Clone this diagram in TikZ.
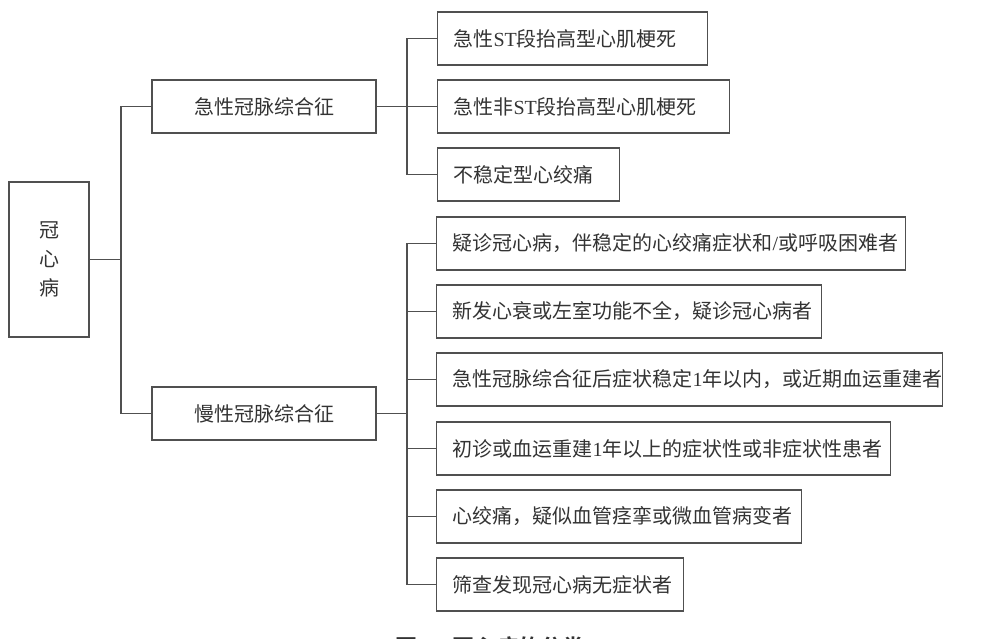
\documentclass[tikz,border=0pt]{standalone}
\usepackage{fontspec}
\newfontfamily\cjk{Noto Sans CJK SC}
\newfontfamily\cjkb{Noto Sans CJK SC Bold}
\newfontfamily\lat{Liberation Serif}
\definecolor{linec}{HTML}{505050}
\definecolor{textc}{HTML}{333333}
\tikzset{
  box/.style={draw=linec, line width=1.1pt, minimum height=53pt, inner ysep=0pt, inner xsep=16pt,
    text=textc, font=\cjk\fontsize{20}{24}\selectfont, anchor=west, align=left},
  midbox/.style={draw=linec, line width=1.1pt, minimum height=53pt, minimum width=224pt, inner sep=0pt,
    text=textc, font=\cjk\fontsize{20}{24}\selectfont},
  link/.style={draw=linec, line width=1.1pt}
}
\begin{document}
\begin{tikzpicture}[x=1pt,y=-1pt]
\useasboundingbox (0,0) rectangle (985,638);
% root
\node[draw=linec, line width=1.1pt, minimum width=80pt, minimum height=155pt, inner sep=0pt,
  text=textc, font=\cjk\fontsize{20}{29}\selectfont, align=center] (root) at (49,259.5) {冠\\心\\病};
% middle level
\node[midbox] (acs) at (264,106.5) {急性冠脉综合征};
\node[midbox] (ccs) at (264,413.5) {慢性冠脉综合征};
% leaves
\node[box, text width=270pt-32pt] (a1) at (437,38.5) {急性{\lat ST}段抬高型心肌梗死};
\node[box, text width=292pt-32pt] (a2) at (437,106.5) {急性非{\lat ST}段抬高型心肌梗死};
\node[box, text width=182pt-32pt] (a3) at (437,174.5) {不稳定型心绞痛};
\node[box, text width=469pt-32pt] (b1) at (436,243.5) {疑诊冠心病，伴稳定的心绞痛症状和{\lat /}或呼吸困难者};
\node[box, text width=385pt-32pt] (b2) at (436,311.5) {新发心衰或左室功能不全，疑诊冠心病者};
\node[box, text width=506pt-32pt] (b3) at (436,379.5) {急性冠脉综合征后症状稳定{\lat 1}年以内，或近期血运重建者};
\node[box, text width=454pt-32pt] (b4) at (436,448.5) {初诊或血运重建{\lat 1}年以上的症状性或非症状性患者};
\node[box, text width=365pt-32pt] (b5) at (436,516.5) {心绞痛，疑似血管痉挛或微血管病变者};
\node[box, text width=247pt-32pt] (b6) at (436,584.5) {筛查发现冠心病无症状者};
% junction coordinates
\coordinate (tx) at (121,0);
\coordinate (bx) at (407,0);
% connectors
\draw[link] (root.east) -- (root.east -| tx);
\draw[link] (acs.west) -- (acs.west -| tx) -- (ccs.west -| tx) -- (ccs.west);
\draw[link] (acs.east) -- (a2.west);
\draw[link] (a1.west) -- (a1.west -| bx) -- (a3.west -| bx) -- (a3.west);
\draw[link] (ccs.east) -- (ccs.east -| bx);
\draw[link] (b1.west) -- (b1.west -| bx) -- (b6.west -| bx) -- (b6.west);
\foreach \n in {b2,b3,b4,b5} \draw[link] (\n.west) -- (\n.west -| bx);
% caption (partly cut by the page edge, as in the reference)
\node[anchor=base west, inner sep=0pt, text=textc, font=\cjkb\fontsize{22}{26}\selectfont] (cap) at (395,655)
  {图{\lat\bfseries 1}\hspace{24pt}冠心病的分类};
\end{tikzpicture}
\end{document}
